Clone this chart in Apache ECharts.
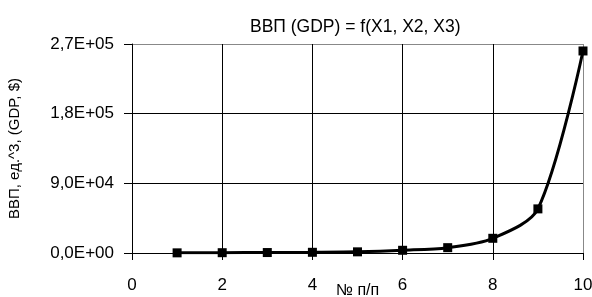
<!DOCTYPE html>
<html><head><meta charset="utf-8">
<script src="https://cdn.jsdelivr.net/npm/echarts@6/dist/echarts.min.js"></script>
<style>html,body{margin:0;padding:0;background:#fff}#c{width:592px;height:297px}</style>
</head><body><div id="c"></div>
<script>
const titleText = 'ВВП (GDP) = f(X1, X2, X3)';
const xName = '№ п/п';
const yName = 'ВВП, ед.^3, (GDP, $)';
const xValues = [1, 2, 3, 4, 5, 6, 7, 8, 9, 10];
const gdpValues = [200, 400, 600, 900, 1500, 3500, 6900, 19000, 57000, 261000];

function sci(v) {
  if (v === 0) return '0,0E+00';
  const e = Math.floor(Math.log10(Math.abs(v)));
  const m = v / Math.pow(10, e);
  const es = (e < 0 ? '-' : '+') + String(Math.abs(e)).padStart(2, '0');
  return m.toFixed(1).replace('.', ',') + 'E' + es;
}

const font = 'Liberation Sans, Arial, sans-serif';
const chart = echarts.init(document.getElementById('c'));
chart.setOption({
  animation: false,
  backgroundColor: '#fff',
  title: { text: titleText, left: 245, top: 13,
    textStyle: { fontFamily: font, fontSize: 17.5, fontWeight: 'normal', color: '#000' } },
  grid: { left: 132, right: 9, top: 44, bottom: 44, show: false, containLabel: false, outerBoundsMode: 'none' },
  xAxis: {
    type: 'value', min: 0, max: 10, interval: 2,
    name: xName, nameLocation: 'middle', nameGap: 30, nameMoveOverlap: false,
    nameTextStyle: { fontFamily: font, fontSize: 16, color: '#000' },
    axisLine: { lineStyle: { color: '#000', width: 1 } },
    axisTick: { show: true, length: 7, lineStyle: { color: '#000' } },
    axisLabel: { fontFamily: font, fontSize: 17, color: '#000', margin: 24 },
    splitLine: { show: true, lineStyle: { color: ['#000', '#000', '#000', '#000', '#000', '#888'], width: 1 } }
  },
  yAxis: {
    type: 'value', min: 0, max: 270000, interval: 90000,
    name: yName, nameLocation: 'middle', nameGap: 110, nameMoveOverlap: false,
    nameTextStyle: { fontFamily: font, fontSize: 15, color: '#000' },
    axisLine: { show: true, lineStyle: { color: '#000', width: 1 } },
    axisTick: { show: true, length: 8, lineStyle: { color: '#000' } },
    axisLabel: { fontFamily: font, fontSize: 17, color: '#000', margin: 18, formatter: sci },
    splitLine: { show: true, lineStyle: { color: ['#000', '#000', '#000', '#888'], width: 1 } }
  },
  series: [{
    type: 'line',
    data: xValues.map((x, i) => [x, gdpValues[i]]),
    smooth: 0.3,
    symbol: 'rect', symbolSize: 9,
    lineStyle: { color: '#000', width: 3 },
    itemStyle: { color: '#000' }
  }]
});
</script></body></html>
